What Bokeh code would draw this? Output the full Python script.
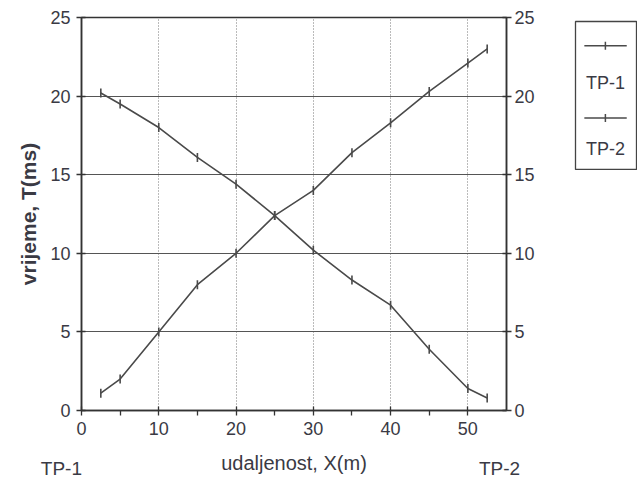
import math
from bokeh.plotting import figure
from bokeh.models import Range1d, LinearAxis, FixedTicker, Title, Label
from bokeh.layouts import row, column
from bokeh.embed import file_html
from bokeh.resources import INLINE
from bokeh.core.properties import value

# ---- data ----
distance = [2.5, 5, 10, 15, 20, 25, 30, 35, 40, 45, 50, 52.5]
tp1 = [1.1, 2.0, 5.0, 8.0, 10.0, 12.4, 14.0, 16.4, 18.3, 20.3, 22.1, 23.0]
tp2 = [20.2, 19.5, 18.0, 16.1, 14.4, 12.4, 10.2, 8.3, 6.7, 3.9, 1.4, 0.8]
series_names = ["TP-1", "TP-2"]
x_ticks = [0, 10, 20, 30, 40, 50]
x_minor = [5, 15, 25, 35, 45]
y_ticks = [0, 5, 10, 15, 20, 25]
x_title = "udaljenost, X(m)"
y_title = "vrijeme, T(ms)"

FONT = "Liberation Sans"
TXT = "#3a3a44"
LINE = "#4a4a4a"

p = figure(frame_width=425, frame_height=393,
           min_border_left=81, min_border_right=62,
           min_border_top=17, min_border_bottom=68,
           x_range=Range1d(0, 55), y_range=Range1d(0, 25),
           output_backend="svg", toolbar_location=None,
           background_fill_color="white", border_fill_color="white")
p.outline_line_color = "#333333"
p.outline_line_width = 1.5

xt = FixedTicker(ticks=x_ticks, minor_ticks=x_minor)
yt = FixedTicker(ticks=y_ticks)
p.xaxis.ticker = xt
p.yaxis.ticker = yt

for ax in [p.xaxis[0], p.yaxis[0]]:
    ax.axis_line_color = "#333333"
    ax.axis_line_width = 1.5
    ax.major_tick_line_color = "#333333"
    ax.major_tick_line_width = 1.3
    ax.major_tick_in = 4
    ax.major_tick_out = 5
    ax.minor_tick_line_color = "#333333"
    ax.minor_tick_line_width = 1.3
    ax.minor_tick_in = 0
    ax.minor_tick_out = 5
    ax.major_label_text_font = FONT
    ax.major_label_text_font_size = "18px"
    ax.major_label_text_color = TXT
p.xaxis.major_label_standoff = 6
p.yaxis.major_label_standoff = 6
p.yaxis.minor_tick_line_color = None

p.xaxis.axis_label = x_title
p.xaxis.axis_label_text_font = FONT
p.xaxis.axis_label_text_font_size = "20px"
p.xaxis.axis_label_text_font_style = "normal"
p.xaxis.axis_label_text_color = TXT
p.xaxis.axis_label_standoff = 14

ry = LinearAxis(ticker=yt)
ry.axis_line_color = "#333333"
ry.axis_line_width = 1.5
ry.major_tick_line_color = "#333333"
ry.major_tick_line_width = 1.3
ry.major_tick_in = 4
ry.major_tick_out = 5
ry.minor_tick_line_color = None
ry.major_label_text_font = FONT
ry.major_label_text_font_size = "18px"
ry.major_label_text_color = TXT
ry.major_label_standoff = 3
p.add_layout(ry, "right")

ytitle = Title(text=y_title, align="center", offset=35,
               text_font=FONT, text_font_size="21px", text_font_style="bold",
               text_color=TXT, standoff=16)
p.add_layout(ytitle, "left")

# shot-point names under both ends of the profile (in the panel, so not clipped)
for name, xpos in zip(series_names, [-2.6, 54.1]):
    p.add_layout(Label(x=xpos, y=-3.7, text=name, text_align="center",
                       text_baseline="middle", text_font=FONT,
                       text_font_size="19px", text_color=TXT), "below")

p.xgrid.grid_line_color = "#777777"
p.xgrid.grid_line_dash = "1 2"
p.xgrid.grid_line_width = 1
p.ygrid.grid_line_color = "#555555"
p.ygrid.grid_line_width = 1.2

for ys in [tp1, tp2]:
    p.line(distance, ys, line_color=LINE, line_width=1.6)
    p.scatter(distance, ys, marker="dash", angle=math.pi / 2, size=9,
              line_color=LINE, line_width=1.6)

# ---- legend box as a small figure ----
lg = figure(frame_width=61, frame_height=149,
            min_border_left=7, min_border_right=1,
            min_border_top=21, min_border_bottom=0,
            x_range=Range1d(0, 1), y_range=Range1d(0, 1),
            x_axis_location=None, y_axis_location=None,
            output_backend="svg", toolbar_location=None,
            border_fill_color="white")
lg.grid.visible = False
lg.outline_line_color = "#444444"
lg.outline_line_width = 1.3
sample_y = [0.837, 0.353]
text_y = [0.589, 0.146]
for sy, ty, name in zip(sample_y, text_y, series_names):
    lg.line([0.145, 0.84], [sy, sy], line_color=LINE, line_width=1.5)
    lg.scatter([0.49], [sy], marker="dash", angle=math.pi / 2, size=8,
               line_color=LINE, line_width=1.5)
    lg.text([0.49], [ty], text=[name], text_align="center", text_baseline="middle",
            text_font=value(FONT), text_font_size="18px", text_color=TXT)

layout = row(p, column(lg))
open("out.html", "w").write(file_html(layout, INLINE))
